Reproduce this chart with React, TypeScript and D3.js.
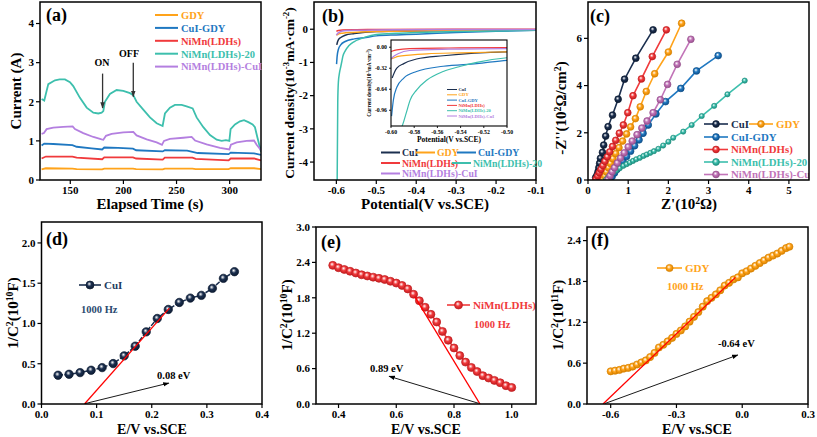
import React from 'react';
import * as d3 from 'd3';

const FONT = 'Liberation Serif, DejaVu Serif, serif';

const COL = {
  navy: '#1b2f4f', orange: '#ffa31a', blue: '#1f78c1', red: '#f03a3c',
  teal: '#3dbfad', purple: '#b47fe0', mauve: '#c274b8',
};
const DARK: Record<string, string> = {
  navy: '#0c1a30', orange: '#d98200', blue: '#0f4f8a', red: '#c21c1f',
  teal: '#1f8f80', purple: '#8a55b8', mauve: '#96508c',
};

// ---------- (a) photocurrent ----------
const aNames = ['GDY', 'CuI-GDY', 'NiMn(LDHs)', 'NiMn(LDHs)-20', 'NiMn(LDHs)-CuI'];
const aColors = ['orange', 'blue', 'red', 'teal', 'purple'];
const aGDY: [number, number][] = [[123,0.27],[127,0.3],[152,0.29],[156,0.28],[180,0.27],[182,0.29],[209,0.29],[212,0.28],[237,0.27],[239,0.29],[265,0.29],[268,0.28],[299,0.28],[301,0.3],[323,0.3],[329.5,0.28]];
const aCuIGDY: [number, number][] = [[123,0.88],[125.5,0.93],[134,0.92],[152,0.89],[156,0.85],[170,0.81],[180,0.78],[182,0.83],[195,0.82],[209,0.8],[212,0.76],[237,0.73],[239,0.76],[260,0.75],[265,0.72],[270,0.69],[299,0.66],[301,0.7],[323,0.68],[329.5,0.64]];
const aNiMn: [number, number][] = [[123,0.55],[127,0.6],[152,0.6],[156,0.57],[180,0.53],[182,0.58],[209,0.58],[212,0.55],[237,0.52],[239,0.57],[265,0.57],[268,0.54],[299,0.5],[301,0.55],[323,0.55],[329.5,0.5]];
const aNiMn20: [number, number][] = [[123,2.07],[125.5,2.03],[129.3,2.45],[135.6,2.55],[140,2.57],[145,2.57],[149.7,2.5],[152.8,2.4],[159.1,2.1],[165.4,1.85],[171.7,1.72],[176.4,1.7],[179.5,1.72],[181.1,1.76],[182.6,2.0],[187.3,2.2],[193.6,2.3],[199.9,2.28],[206.2,2.22],[209.3,2.17],[212.4,2.0],[218.7,1.8],[225,1.6],[231.3,1.45],[236.9,1.38],[239.1,1.7],[243.8,1.85],[248.5,1.92],[254.8,1.92],[259.5,1.88],[265.2,1.83],[268.9,1.6],[275.2,1.35],[281.5,1.15],[287.8,1.03],[292.5,1.0],[296.5,1.02],[299.7,1.0],[300.9,1.3],[305,1.42],[309.7,1.5],[313.5,1.53],[317.6,1.48],[321.6,1.42],[323.8,1.35],[326,1.1],[329.5,0.72]];
const aNiMnCuI: [number, number][] = [[123,1.18],[125.2,1.2],[127.7,1.3],[134,1.34],[143.4,1.36],[152.2,1.37],[154.4,1.3],[162.2,1.2],[171.7,1.1],[179.5,1.04],[181.1,1.03],[183.6,1.13],[188.9,1.18],[199.9,1.22],[209.3,1.23],[212.4,1.14],[221.9,1.04],[231.3,0.96],[236.3,0.9],[238.2,1.0],[243.8,1.05],[256.4,1.08],[264.2,1.1],[267.4,1.01],[278.3,0.91],[290.9,0.82],[299.7,0.78],[301.2,0.9],[306.6,0.96],[316,1.0],[322.9,1.01],[325.4,0.9],[329.5,0.76]];
const aSeries = [aGDY, aCuIGDY, aNiMn, aNiMn20, aNiMnCuI];
const aXTicks = [150, 200, 250, 300];
const aYTicks = [0, 1, 2, 3, 4];

// ---------- (b) LSV ----------
const bNames = ['CuI', 'GDY', 'CuI-GDY', 'NiMn(LDHs)', 'NiMn(LDHs)-20', 'NiMn(LDHs)-CuI'];
const bColors = ['navy', 'orange', 'blue', 'red', 'teal', 'purple'];
const bCuI: [number, number][] = [[-0.599,-0.47],[-0.597,-0.38],[-0.595,-0.32],[-0.589,-0.25],[-0.578,-0.18],[-0.555,-0.13],[-0.5,-0.07],[-0.4,-0.05],[-0.3,-0.04],[-0.2,-0.03],[-0.1,-0.02]];
const bGDY: [number, number][] = [[-0.6,-0.18],[-0.597,-0.16],[-0.594,-0.14],[-0.584,-0.12],[-0.569,-0.1],[-0.54,-0.085],[-0.5,-0.07],[-0.4,-0.05],[-0.3,-0.035],[-0.2,-0.025],[-0.1,-0.015]];
const bCuIGDY: [number, number][] = [[-0.5995,-1.05],[-0.598,-0.81],[-0.595,-0.61],[-0.589,-0.47],[-0.578,-0.37],[-0.555,-0.29],[-0.526,-0.25],[-0.5,-0.2],[-0.45,-0.17],[-0.4,-0.15],[-0.3,-0.1],[-0.2,-0.06],[-0.1,-0.03]];
const bNiMn: [number, number][] = [[-0.6,-0.066],[-0.595,-0.04],[-0.584,-0.02],[-0.55,-0.012],[-0.5,-0.006],[-0.3,-0.003],[-0.1,0]];
const bNiMn20: [number, number][] = [[-0.598,-4.6],[-0.5965,-2.2],[-0.595,-1.6],[-0.592,-1.3],[-0.589,-1.13],[-0.586,-0.95],[-0.5836,-0.81],[-0.5778,-0.65],[-0.569,-0.5],[-0.555,-0.37],[-0.54,-0.29],[-0.526,-0.23],[-0.5,-0.16],[-0.45,-0.12],[-0.4,-0.1],[-0.3,-0.07],[-0.2,-0.05],[-0.1,-0.03]];
const bNiMnCuI: [number, number][] = [[-0.6,-0.177],[-0.597,-0.13],[-0.594,-0.1],[-0.584,-0.05],[-0.55,-0.03],[-0.5,-0.02],[-0.3,-0.01],[-0.1,-0.005]];
const bSeries = [bCuI, bGDY, bCuIGDY, bNiMn, bNiMn20, bNiMnCuI];
const bXTicks = [-0.6, -0.5, -0.4, -0.3, -0.2, -0.1];
const bYTicks = [-4, -3, -2, -1, 0];
const bInsetXTicks = [-0.6, -0.58, -0.56, -0.54, -0.52, -0.5];
const bInsetYTicks = [0, -0.32, -0.64, -0.96];

// ---------- (c) Nyquist ----------
const cNames = ['CuI', 'GDY', 'CuI-GDY', 'NiMn(LDHs)', 'NiMn(LDHs)-20', 'NiMn(LDHs)-CuI'];
const cColors = ['navy', 'orange', 'blue', 'red', 'teal', 'mauve'];
const cCuI: [number, number][] = [[0.19,0.1],[0.225,0.21],[0.25,0.35],[0.27,0.52],[0.29,0.71],[0.31,0.92],[0.36,1.17],[0.39,1.48],[0.44,1.86],[0.5,2.26],[0.61,2.75],[0.75,3.42],[0.91,4.27],[1.19,5.16],[1.62,6.36]];
const cGDY: [number, number][] = [[0.38,0.02],[0.42,0.17],[0.46,0.34],[0.51,0.52],[0.56,0.7],[0.62,0.9],[0.69,1.12],[0.77,1.37],[0.86,1.65],[0.96,1.95],[1.06,2.25],[1.18,2.6],[1.3,3.1],[1.45,3.75],[1.66,4.5],[2.0,5.42],[2.33,6.64]];
const cCuIGDY: [number, number][] = [[0.55,0.02],[0.6,0.15],[0.66,0.3],[0.72,0.45],[0.79,0.62],[0.87,0.8],[0.96,1.0],[1.06,1.22],[1.16,1.45],[1.27,1.7],[1.37,1.98],[1.5,2.33],[1.69,2.8],[1.93,3.32],[2.31,3.88],[2.7,4.62],[3.24,5.27]];
const cNiMn: [number, number][] = [[0.2,0.04],[0.24,0.17],[0.28,0.31],[0.32,0.45],[0.37,0.61],[0.42,0.79],[0.48,0.98],[0.54,1.19],[0.61,1.42],[0.69,1.68],[0.78,1.98],[0.88,2.33],[0.99,2.85],[1.12,3.57],[1.33,4.28],[1.6,5.23],[1.95,6.36]];
const cNiMn20: [number, number][] = [[0.45,0.02],[0.5,0.12],[0.55,0.22],[0.62,0.32],[0.7,0.4],[0.79,0.5],[0.88,0.6],[0.96,0.67],[1.04,0.74],[1.12,0.81],[1.2,0.88],[1.29,0.94],[1.38,1.02],[1.46,1.08],[1.55,1.15],[1.64,1.22],[1.75,1.32],[1.87,1.46],[2.0,1.62],[2.12,1.79],[2.37,2.05],[2.58,2.33],[2.83,2.71],[3.14,3.14],[3.47,3.63],[3.9,4.21]];
const cNiMnCuI: [number, number][] = [[0.5,0.02],[0.55,0.18],[0.6,0.35],[0.66,0.52],[0.73,0.72],[0.81,0.93],[0.9,1.15],[1.0,1.4],[1.1,1.65],[1.22,1.92],[1.34,2.2],[1.47,2.5],[1.62,2.85],[1.8,3.4],[1.98,4.05],[2.22,4.9],[2.56,5.96]];
const cSeries = [cCuI, cGDY, cCuIGDY, cNiMn, cNiMn20, cNiMnCuI];
const cXTicks = [0, 1, 2, 3, 4, 5];
const cYTicks = [0, 2, 4, 6];

// ---------- (d) Mott-Schottky CuI ----------
const dE = [0.03,0.05,0.07,0.09,0.11,0.13,0.15,0.17,0.19,0.21,0.23,0.25,0.27,0.29,0.31,0.33,0.35];
const dVal = [0.357,0.369,0.39,0.419,0.452,0.502,0.598,0.718,0.896,1.062,1.174,1.261,1.315,1.349,1.436,1.56,1.643];
const dFit: [number, number][] = [[0.078,0],[0.232,1.19]];
const dXTicks = [0, 0.1, 0.2, 0.3, 0.4];
const dYTicks = [0, 0.5, 1.0, 1.5, 2.0];

// ---------- (e) Mott-Schottky NiMn(LDHs) ----------
const eE = [0.38,0.40,0.42,0.44,0.46,0.48,0.50,0.52,0.54,0.56,0.58,0.60,0.62,0.64,0.66,0.68,0.70,0.72,0.74,0.76,0.78,0.80,0.82,0.84,0.86,0.88,0.90,0.92,0.94,0.96,0.98,1.00];
const eVal = [2.35,2.31,2.28,2.25,2.22,2.19,2.17,2.15,2.13,2.11,2.08,2.05,2.01,1.95,1.86,1.75,1.64,1.52,1.39,1.23,1.08,0.95,0.82,0.71,0.62,0.55,0.48,0.44,0.40,0.36,0.31,0.28];
const eFit: [number, number][] = [[0.664,1.82],[0.89,0]];
const eXTicks = [0.4, 0.6, 0.8, 1.0];
const eYTicks = [0, 0.6, 1.2, 1.8, 2.4, 3.0];

// ---------- (f) Mott-Schottky GDY ----------
const fE = [-0.60,-0.58,-0.56,-0.54,-0.52,-0.50,-0.48,-0.46,-0.44,-0.42,-0.40,-0.38,-0.36,-0.34,-0.32,-0.30,-0.28,-0.26,-0.24,-0.22,-0.20,-0.18,-0.16,-0.14,-0.12,-0.10,-0.08,-0.06,-0.04,-0.02,0.00,0.02,0.04,0.06,0.08,0.10,0.12,0.14,0.16,0.18,0.20,0.215];
const fVal = [0.48,0.49,0.50,0.52,0.53,0.55,0.58,0.61,0.64,0.69,0.75,0.83,0.87,0.92,0.97,1.03,1.08,1.14,1.21,1.28,1.35,1.43,1.51,1.56,1.61,1.67,1.74,1.78,1.83,1.86,1.92,1.95,1.99,2.03,2.07,2.11,2.15,2.18,2.21,2.25,2.29,2.31];
const fFit: [number, number][] = [[-0.635,0],[-0.031,1.86]];
const fXTicks = [-0.6, -0.3, 0, 0.3];
const fYTicks = [0, 0.6, 1.2, 1.8, 2.4];

type Part = string | { sup: string };

const TS: React.CSSProperties = { fontFamily: FONT, fontWeight: 'bold' };

function Rich({ x, y, parts, size, fill = '#000', anchor = 'middle', rotate = false }: any) {
  return (
    <text x={rotate ? 0 : x} y={rotate ? 0 : y} transform={rotate ? `translate(${x},${y}) rotate(-90)` : undefined}
      style={TS} fontSize={size} fill={fill} textAnchor={anchor}>
      {(parts as Part[]).map((p, i) =>
        typeof p === 'string' ? <tspan key={i}>{p}</tspan> :
          <tspan key={i} baselineShift="super" fontSize={size * 0.65}>{p.sup}</tspan>)}
    </text>
  );
}

function Axes({ x, y, xt, yt, xf, yf, fs = 11, tl = 4, sw = 1.5 }: any) {
  const [x0, x1] = x.range();
  const [y0, y1] = y.range();
  return (
    <g>
      <rect x={x0} y={y1} width={x1 - x0} height={y0 - y1} fill="none" stroke="#000" strokeWidth={sw} />
      {xt.map((t: number, i: number) => (
        <g key={'x' + i}>
          <line x1={x(t)} x2={x(t)} y1={y0} y2={y0 + tl} stroke="#000" strokeWidth={sw * 0.8} />
          <text x={x(t)} y={y0 + tl + fs * 0.95} textAnchor="middle" style={TS} fontSize={fs}>{xf(t)}</text>
        </g>
      ))}
      {yt.map((t: number, i: number) => (
        <g key={'y' + i}>
          <line x1={x0 - tl} x2={x0} y1={y(t)} y2={y(t)} stroke="#000" strokeWidth={sw * 0.8} />
          <text x={x0 - tl - 2} y={y(t) + fs * 0.35} textAnchor="end" style={TS} fontSize={fs}>{yf(t)}</text>
        </g>
      ))}
    </g>
  );
}

function Ball({ cx, cy, r, c }: any) {
  return <circle cx={cx} cy={cy} r={r} fill={`url(#grad-${c})`} stroke={DARK[c]} strokeWidth={0.7} />;
}

const f1 = (v: number) => v.toFixed(1);
const f2 = (v: number) => v.toFixed(2);
const f0 = (v: number) => String(v);

export default function App() {
  const ax = d3.scaleLinear().domain([121.5, 329.5]).range([40, 261]);
  const ay = d3.scaleLinear().domain([0, 4.55]).range([180, 2]);
  const aLine = d3.line<[number, number]>().x(d => ax(d[0])).y(d => ay(d[1]));
  const bx = d3.scaleLinear().domain([-0.656, -0.1]).range([314, 536]);
  const by = d3.scaleLinear().domain([-4.54, 0.82]).range([180, 2]);
  const bLine = d3.line<[number, number]>().x(d => bx(d[0])).y(d => by(d[1])).curve(d3.curveMonotoneX);
  const ix = d3.scaleLinear().domain([-0.6, -0.5]).range([391, 507]);
  const iy = d3.scaleLinear().domain([-1.2, 0.11]).range([126, 40]);
  const iLine = d3.line<[number, number]>().x(d => ix(d[0])).y(d => iy(d[1])).curve(d3.curveMonotoneX);
  const cx = d3.scaleLinear().domain([0, 5.5]).range([588, 809]);
  const cy = d3.scaleLinear().domain([0, 7.54]).range([180, 2]);
  const cLine = d3.line<[number, number]>().x(d => cx(d[0])).y(d => cy(d[1]));
  const dx = d3.scaleLinear().domain([0, 0.4]).range([41.5, 262]);
  const dy = d3.scaleLinear().domain([0, 2.26]).range([404, 222]);
  const dPts = dE.map((e, i) => [e, dVal[i]] as [number, number]);
  const dLine = d3.line<[number, number]>().x(d => dx(d[0])).y(d => dy(d[1]));
  const ex = d3.scaleLinear().domain([0.322, 1.084]).range([316, 536]);
  const ey = d3.scaleLinear().domain([0, 3]).range([404, 227]);
  const ePts = eE.map((e, i) => [e, eVal[i]] as [number, number]);
  const eLine = d3.line<[number, number]>().x(d => ex(d[0])).y(d => ey(d[1]));
  const fx = d3.scaleLinear().domain([-0.708, 0.3]).range([587, 808]);
  const fy = d3.scaleLinear().domain([0, 2.6]).range([404, 227]);
  const fPts = fE.map((e, i) => [e, fVal[i]] as [number, number]);
  const fLine = d3.line<[number, number]>().x(d => fx(d[0])).y(d => fy(d[1]));

  const clip = (id: string, xs: any, ys: any) => {
    const [x0, x1] = xs.range(); const [y0, y1] = ys.range();
    return <clipPath id={id}><rect x={x0} y={y1} width={x1 - x0} height={y0 - y1} /></clipPath>;
  };

  return (
    <svg width={817} height={437} style={{ position: 'absolute', left: 0, top: 0, background: '#fff', fontFamily: FONT }}>
      <defs>
        {Object.keys(COL).map(k => (
          <radialGradient key={k} id={`grad-${k}`} cx="0.45" cy="0.42" r="0.6" fx="0.4" fy="0.35">
            <stop offset="0" stopColor="#ffffff" />
            <stop offset="0.45" stopColor={(COL as any)[k]} />
            <stop offset="1" stopColor={DARK[k]} />
          </radialGradient>
        ))}
        <marker id="ah" viewBox="0 0 10 10" refX="9" refY="5" markerWidth="7" markerHeight="7" orient="auto">
          <path d="M0,1.5 L10,5 L0,8.5 z" fill="#000" />
        </marker>
        <marker id="ahg" viewBox="0 0 10 10" refX="9" refY="5" markerWidth="5" markerHeight="5" orient="auto">
          <path d="M0,1.5 L10,5 L0,8.5 z" fill="#333" />
        </marker>
        {clip('clipA', ax, ay)}
        {clip('clipB', bx, by)}
        {clip('clipI', ix, iy)}
        {clip('clipC', cx, cy)}
        {clip('clipD', dx, dy)}
        {clip('clipE', ex, ey)}
        {clip('clipF', fx, fy)}
      </defs>

      {/* ===== (a) ===== */}
      <g clipPath="url(#clipA)">
        {aSeries.map((s, i) => (
          <path key={i} d={aLine(s) || ''} fill="none" stroke={(COL as any)[aColors[i]]} strokeWidth={1.8} />
        ))}
      </g>
      <Axes x={ax} y={ay} xt={aXTicks} yt={aYTicks} xf={f0} yf={f0} />
      <line x1={ax(180.4)} x2={ax(180.4)} y1={ay(2.72)} y2={ay(1.84)} stroke="#333" strokeWidth={1.3} markerEnd="url(#ahg)" />
      <line x1={ax(209.3)} x2={ax(209.3)} y1={ay(3.0)} y2={ay(2.13)} stroke="#333" strokeWidth={1.3} markerEnd="url(#ahg)" />
      <text x={102} y={66} textAnchor="middle" style={TS} fontSize={10}>ON</text>
      <text x={129} y={57} textAnchor="middle" style={TS} fontSize={10}>OFF</text>
      {aNames.map((n, i) => (
        <g key={n}>
          <line x1={155} x2={178} y1={15 + i * 12.9} y2={15 + i * 12.9} stroke={(COL as any)[aColors[i]]} strokeWidth={2} />
          <text x={181} y={15 + i * 12.9 + 3.8} style={TS} fontSize={10.5} fill={(COL as any)[aColors[i]]}>{n}</text>
        </g>
      ))}
      <text x={46} y={21} style={TS} fontSize={18}>(a)</text>
      <text transform="translate(21,91) rotate(-90)" textAnchor="middle" style={TS} fontSize={15}>Current (A)</text>
      <text x={150} y={209} textAnchor="middle" style={TS} fontSize={15}>Elapsed Time (s)</text>

      {/* ===== (b) ===== */}
      <g clipPath="url(#clipB)">
        {bSeries.map((s, i) => (
          <path key={i} d={bLine(s) || ''} fill="none" stroke={(COL as any)[bColors[i]]} strokeWidth={1.5} />
        ))}
      </g>
      <Axes x={bx} y={by} xt={bXTicks} yt={bYTicks} xf={f1} yf={f0} />
      <text x={322} y={22} style={TS} fontSize={18}>(b)</text>
      <Rich x={294} y={93} rotate size={13.5} parts={['Current density(10', { sup: '-3' }, 'mA·cm', { sup: '-2' }, ')']} />
      <text x={425} y={209} textAnchor="middle" style={TS} fontSize={15}>Potential(V vs.SCE)</text>
      <rect x={391} y={40} width={116} height={86} fill="#fff" />
      <g clipPath="url(#clipI)">
        {bSeries.map((s, i) => (
          <path key={i} d={iLine(s) || ''} fill="none" stroke={(COL as any)[bColors[i]]} strokeWidth={1.2} />
        ))}
      </g>
      <Axes x={ix} y={iy} xt={bInsetXTicks} yt={bInsetYTicks} xf={f2} yf={f2} fs={5.8} tl={2} sw={1.1} />
      <Rich x={371} y={83} rotate size={5.3} parts={['Current density(10', { sup: '-3' }, 'mA·cm', { sup: '-2' }, ')']} />
      <text x={449} y={142} textAnchor="middle" style={TS} fontSize={7.5}>Potential(V vs.SCE)</text>
      {bNames.map((n, i) => (
        <g key={n}>
          <line x1={447} x2={457} y1={89.5 + i * 5.3} y2={89.5 + i * 5.3} stroke={(COL as any)[bColors[i]]} strokeWidth={1} />
          <text x={458.5} y={89.5 + i * 5.3 + 1.6} style={TS} fontSize={4.6} fill={(COL as any)[bColors[i]]}>{n}</text>
        </g>
      ))}
      {[
        { i: 0, x: 381, y: 152.5 }, { i: 1, x: 416, y: 152.5 }, { i: 2, x: 457, y: 152.5 },
        { i: 3, x: 381, y: 163 }, { i: 4, x: 452, y: 163 }, { i: 5, x: 381, y: 173.5 },
      ].map(({ i, x, y }) => (
        <g key={i}>
          <line x1={x} x2={x + 19} y1={y} y2={y} stroke={(COL as any)[bColors[i]]} strokeWidth={2} />
          <text x={x + 21} y={y + 3.5} style={TS} fontSize={9.8} fill={(COL as any)[bColors[i]]}>{bNames[i]}</text>
        </g>
      ))}

      {/* ===== (c) ===== */}
      <g clipPath="url(#clipC)">
        {cSeries.map((s, i) => (
          <g key={i}>
            <path d={cLine(s) || ''} fill="none" stroke={(COL as any)[cColors[i]]} strokeWidth={1.6} />
            {s.map((p, j) => <Ball key={j} cx={cx(p[0])} cy={cy(p[1])} r={cColors[i] === 'teal' ? 2.6 : 3.4} c={cColors[i]} />)}
          </g>
        ))}
        {[
          { i: 0, x: 704, y: 124 }, { i: 1, x: 749, y: 124 }, { i: 2, x: 704, y: 137 },
          { i: 3, x: 704, y: 149.5 }, { i: 4, x: 704, y: 162 }, { i: 5, x: 704, y: 174.5 },
        ].map(({ i, x, y }) => (
          <g key={i}>
            <line x1={x} x2={x + 24} y1={y} y2={y} stroke={(COL as any)[cColors[i]]} strokeWidth={1.6} />
            <Ball cx={x + 12} cy={y} r={3.4} c={cColors[i]} />
            <text x={x + 27} y={y + 3.8} style={TS} fontSize={10.8} fill={(COL as any)[cColors[i]]}>{cNames[i]}</text>
          </g>
        ))}
      </g>
      <Axes x={cx} y={cy} xt={cXTicks} yt={cYTicks} xf={f0} yf={f0} />
      <text x={590} y={22} style={TS} fontSize={18}>(c)</text>
      <Rich x={566} y={108} rotate size={15} parts={["-Z''(10", { sup: '2' }, 'Ω/cm', { sup: '2' }, ')']} />
      <Rich x={689} y={209} size={15} parts={["Z'(10", { sup: '2' }, 'Ω)']} />

      {/* ===== (d) ===== */}
      <g clipPath="url(#clipD)">
        <path d={dLine(dPts) || ''} fill="none" stroke={COL.navy} strokeWidth={1.5} strokeDasharray="5,1.5" />
        {dPts.map((p, j) => <Ball key={j} cx={dx(p[0])} cy={dy(p[1])} r={4.2} c="navy" />)}
        <path d={dLine(dFit) || ''} fill="none" stroke="#ff0000" strokeWidth={1.3} />
      </g>
      <line x1={dx(0.079)} y1={dy(0.005)} x2={dx(0.231)} y2={dy(0.26)} stroke="#000" strokeWidth={0.9} markerEnd="url(#ah)" />
      <text x={157} y={379} style={TS} fontSize={10.5}>0.08 eV</text>
      <line x1={79} x2={101} y1={285} y2={285} stroke={COL.navy} strokeWidth={1.6} />
      <Ball cx={90} cy={285} r={4} c="navy" />
      <text x={104} y={289} style={TS} fontSize={11} fill="#1f3c63">CuI</text>
      <text x={81} y={313} style={TS} fontSize={10.5} fill="#2b4a6f">1000 Hz</text>
      <Axes x={dx} y={dy} xt={dXTicks} yt={dYTicks} xf={f1} yf={f1} />
      <text x={46} y={245} style={TS} fontSize={18}>(d)</text>
      <Rich x={18} y={313} rotate size={15} parts={['1/C', { sup: '2' }, '(10', { sup: '10' }, 'F)']} />
      <text x={152} y={434} textAnchor="middle" style={TS} fontSize={14}>E/V vs.SCE</text>

      {/* ===== (e) ===== */}
      <g clipPath="url(#clipE)">
        <path d={eLine(ePts) || ''} fill="none" stroke={COL.red} strokeWidth={1.5} />
        {ePts.map((p, j) => <Ball key={j} cx={ex(p[0])} cy={ey(p[1])} r={4} c="red" />)}
        <path d={eLine(eFit) || ''} fill="none" stroke="#ff0000" strokeWidth={1.3} />
      </g>
      <line x1={ex(0.885)} y1={ey(0.012)} x2={ex(0.575)} y2={ey(0.47)} stroke="#000" strokeWidth={0.9} markerEnd="url(#ah)" />
      <text x={370} y={372} style={TS} fontSize={10.5}>0.89 eV</text>
      <line x1={447} x2={470} y1={305} y2={305} stroke={COL.red} strokeWidth={1.6} />
      <Ball cx={458.5} cy={305} r={4} c="red" />
      <text x={473} y={309} style={TS} fontSize={11} fill={COL.red}>NiMn(LDHs)</text>
      <text x={474} y={328} style={TS} fontSize={10.5} fill={COL.red}>1000 Hz</text>
      <Axes x={ex} y={ey} xt={eXTicks} yt={eYTicks} xf={f1} yf={f1} />
      <text x={321} y={248} style={TS} fontSize={18}>(e)</text>
      <Rich x={292} y={315} rotate size={15} parts={['1/C', { sup: '2' }, '(10', { sup: '10' }, 'F)']} />
      <text x={426} y={434} textAnchor="middle" style={TS} fontSize={14}>E/V vs.SCE</text>

      {/* ===== (f) ===== */}
      <g clipPath="url(#clipF)">
        <path d={fLine(fPts) || ''} fill="none" stroke={COL.orange} strokeWidth={1.5} />
        {fPts.map((p, j) => <Ball key={j} cx={fx(p[0])} cy={fy(p[1])} r={3.6} c="orange" />)}
        <path d={fLine(fFit) || ''} fill="none" stroke="#ff0000" strokeWidth={1.3} />
      </g>
      <line x1={fx(-0.627)} y1={fy(0.006)} x2={fx(-0.02)} y2={fy(0.72)} stroke="#000" strokeWidth={0.9} markerEnd="url(#ah)" />
      <text x={718} y={347} style={TS} fontSize={10.5}>-0.64 eV</text>
      <line x1={657} x2={682} y1={268} y2={268} stroke={COL.orange} strokeWidth={1.6} />
      <Ball cx={669.5} cy={268} r={3.6} c="orange" />
      <text x={685} y={272} style={TS} fontSize={11} fill={COL.orange}>GDY</text>
      <text x={667} y={290} style={TS} fontSize={10.5} fill={COL.orange}>1000 Hz</text>
      <Axes x={fx} y={fy} xt={fXTicks} yt={fYTicks} xf={f1} yf={f1} />
      <text x={591} y={246} style={TS} fontSize={18}>(f)</text>
      <Rich x={563} y={315} rotate size={15} parts={['1/C', { sup: '2' }, '(10', { sup: '11' }, 'F)']} />
      <text x={697} y={434} textAnchor="middle" style={TS} fontSize={14}>E/V vs.SCE</text>
    </svg>
  );
}
